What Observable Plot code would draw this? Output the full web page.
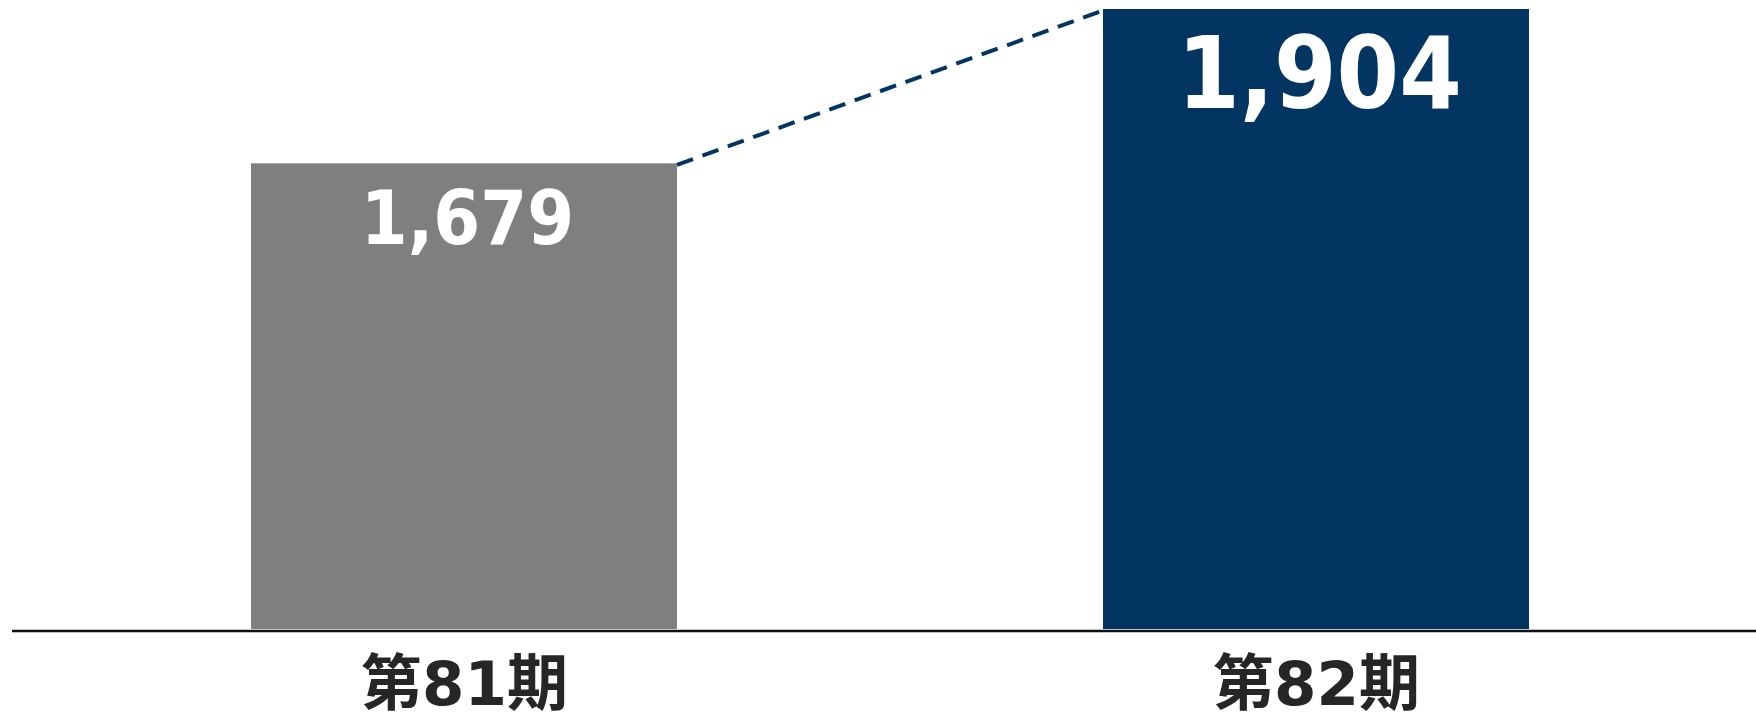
<!DOCTYPE html>
<html>
<head>
<meta charset="utf-8">
<script src="https://cdn.jsdelivr.net/npm/d3@7"></script>
<script src="https://cdn.jsdelivr.net/npm/@observablehq/plot@0.6"></script>
<style>
  html, body { margin: 0; padding: 0; background: #ffffff; }
  #chart { width: 1756px; height: 715px; overflow: hidden; }
</style>
</head>
<body>
<div id="chart"></div>
<script>
const categories = ["第81期", "第82期"];
const values = [1679, 1904];
const valueLabels = ["1,679", "1,904"];
const labelSizes = [75, 100];
const barColors = ["#7f7f7f", "#033563"];
const yBase = 1000;

const data = categories.map((c, i) => ({
  cat: c, value: values[i], label: valueLabels[i], size: labelSizes[i], color: barColors[i]
}));

const chart = Plot.plot({
  width: 1756,
  height: 715,
  marginTop: 9,
  marginBottom: 86,
  marginLeft: 12,
  marginRight: 0,
  style: { fontFamily: "'DejaVu Sans', 'Noto Sans CJK JP', sans-serif", fontWeight: "bold", color: "#262626", background: "#ffffff" },
  x: { domain: categories, range: [37, 1742], paddingInner: 0.5, paddingOuter: 0.25, align: 0.5, label: null },
  y: { domain: [yBase, d3.max(values)], axis: null },
  color: { type: "identity" },
  marks: [
    Plot.barY(data, { x: "cat", y1: yBase, y2: "value", fill: d => d.color }),
    Plot.ruleY([yBase], { stroke: "#111111", strokeWidth: 2.5, dy: 1.5 }),
    Plot.text(data, {
      x: "cat", y: "value", text: "label",
      fontSize: d => d.size, lineAnchor: "top", dy: 27, dx: 3,
      fill: "white", fontWeight: "bold",
      fontFamily: "'DejaVu Sans Condensed', 'DejaVu Sans', sans-serif"
    }),
    Plot.axisX({ tickSize: 0, tickPadding: 32, fontSize: 61, label: null })
  ]
});

document.getElementById("chart").appendChild(chart);

// dashed connector from top-right of first bar to top-left of second bar, via Plot scales
const xs = chart.scale("x");
const ys = chart.scale("y");
d3.select(chart).append("line")
  .attr("x1", xs.apply(categories[0]) + xs.bandwidth)
  .attr("y1", ys.apply(values[0]) + 1.5)
  .attr("x2", xs.apply(categories[1]))
  .attr("y2", ys.apply(values[1]) + 1.5)
  .attr("stroke", barColors[1])
  .attr("stroke-width", 4)
  .attr("stroke-dasharray", "17,10");
</script>
</body>
</html>
